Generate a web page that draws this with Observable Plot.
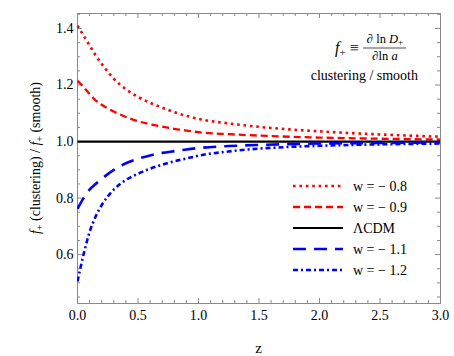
<!DOCTYPE html>
<html>
<head>
<meta charset="utf-8">
<script src="https://cdn.jsdelivr.net/npm/d3@7"></script>
<script src="https://cdn.jsdelivr.net/npm/@observablehq/plot@0.6"></script>
<style>
  html, body { margin: 0; padding: 0; background: #fff; }
  #chart svg { display: block; font-family: 'Liberation Serif', 'DejaVu Serif', serif !important; }
  #chart svg text { font-family: 'Liberation Serif', 'DejaVu Serif', serif !important; }
</style>
</head>
<body>
<div id="chart"></div>
<script>
// ---- data ----
const z      = [0, 0.05, 0.1, 0.15, 0.2, 0.3, 0.4, 0.5, 0.6, 0.7, 0.8, 0.9, 1.0, 1.25, 1.5, 1.75, 2.0, 2.5, 3.0];
const wm08   = [1.41, 1.375, 1.34, 1.305, 1.275, 1.222, 1.185, 1.158, 1.137, 1.12, 1.104, 1.091, 1.080, 1.064, 1.052, 1.043, 1.036, 1.025, 1.017];
const wm09   = [1.215, 1.193, 1.168, 1.146, 1.130, 1.106, 1.087, 1.072, 1.061, 1.053, 1.045, 1.039, 1.033, 1.026, 1.021, 1.017, 1.014, 1.010, 1.007];
const lcdm   = [1, 1, 1, 1, 1, 1, 1, 1, 1, 1, 1, 1, 1, 1, 1, 1, 1, 1, 1];
const wm11   = [0.762, 0.800, 0.830, 0.850, 0.868, 0.900, 0.923, 0.939, 0.951, 0.960, 0.966, 0.972, 0.977, 0.984, 0.988, 0.991, 0.993, 0.995, 0.997];
const wm12   = [0.505, 0.600, 0.680, 0.735, 0.775, 0.830, 0.864, 0.886, 0.904, 0.918, 0.930, 0.940, 0.950, 0.965, 0.975, 0.981, 0.985, 0.990, 0.993];

const seriesNames = ["w = \u2212 0.8", "w = \u2212 0.9", "\u039BCDM", "w = \u2212 1.1", "w = \u2212 1.2"];
const seriesValues = [wm08, wm09, lcdm, wm11, wm12];

const xMajorTicks = [0, 0.5, 1.0, 1.5, 2.0, 2.5, 3.0];
const xTickLabels = ["0.0", "0.5", "1.0", "1.5", "2.0", "2.5", "3.0"];
const xMinorTicks = [0.1,0.2,0.3,0.4,0.6,0.7,0.8,0.9,1.1,1.2,1.3,1.4,1.6,1.7,1.8,1.9,2.1,2.2,2.3,2.4,2.6,2.7,2.8,2.9];
const yMajorTicks = [0.6, 0.8, 1.0, 1.2, 1.4];
const yTickLabels = ["0.6", "0.8", "1.0", "1.2", "1.4"];
const yMinorTicks = [0.45,0.5,0.55,0.65,0.7,0.75,0.85,0.9,0.95,1.05,1.1,1.15,1.25,1.3,1.35,1.45];

// ---- styles ----
const styles = [
  {stroke: "#ff0000", dash: "2.6,3.8", width: 2.6},
  {stroke: "#ff0000", dash: "7,4",     width: 2.3},
  {stroke: "#000000", dash: null,      width: 2.2},
  {stroke: "#0000ff", dash: "13,8",    width: 2.6},
  {stroke: "#0000ff", dash: "5,3,2,3", width: 2.6}
];

const W = 454, H = 356;
const mL = 77, mR = 14, mT = 13, mB = 53;
const plotW = W - mL - mR, plotH = H - mT - mB;
const font = "'Liberation Serif', 'DejaVu Serif', serif";
const tickColor = "#8a8a8a";

const table = [];
seriesValues.forEach((vals, s) => vals.forEach((v, i) => table.push({z: z[i], v, s})));

const lineMarks = styles.map((st, s) =>
  Plot.line(table.filter(d => d.s === s), {
    x: "z", y: "v", curve: "monotone-x", clip: true,
    stroke: st.stroke, strokeWidth: st.width,
    strokeDasharray: st.dash, strokeLinecap: "butt"
  })
);

const chart = Plot.plot({
  width: W, height: H,
  marginLeft: mL, marginRight: mR, marginTop: mT, marginBottom: mB,
  style: {fontFamily: font, fontSize: "14px", background: "#fff", color: "#000"},
  x: {domain: [0, 3]},
  y: {domain: [0.427, 1.453]},
  marks: [
    Plot.ruleX(xMajorTicks, {stroke: tickColor, insetTop: plotH - 5}),
    Plot.ruleX(xMinorTicks, {stroke: tickColor, insetTop: plotH - 3}),
    Plot.ruleX(xMajorTicks, {stroke: tickColor, insetBottom: plotH - 5}),
    Plot.ruleX(xMinorTicks, {stroke: tickColor, insetBottom: plotH - 3}),
    Plot.ruleY(yMajorTicks, {stroke: tickColor, insetRight: plotW - 5}),
    Plot.ruleY(yMinorTicks, {stroke: tickColor, insetRight: plotW - 3}),
    Plot.ruleY(yMajorTicks, {stroke: tickColor, insetLeft: plotW - 5}),
    Plot.ruleY(yMinorTicks, {stroke: tickColor, insetLeft: plotW - 3}),
    Plot.frame({stroke: tickColor, strokeWidth: 1}),
    Plot.axisX({ticks: xMajorTicks, tickFormat: (d, i) => xTickLabels[i], tickSize: 0, tickPadding: 7, label: null, fontSize: 14}),
    Plot.axisY({ticks: yMajorTicks, tickFormat: (d, i) => yTickLabels[i], tickSize: 0, tickPadding: 4, label: null, fontSize: 14}),
    ...lineMarks
  ]
});

document.getElementById("chart").appendChild(chart);

// ---- overlays: labels, annotation, legend ----
const svg = d3.select(chart);
const g = svg.append("g").attr("font-family", font).attr("fill", "#000").attr("text-anchor", "start");

g.append("text").attr("x", mL + plotW / 2).attr("y", 353)
  .attr("text-anchor", "middle").attr("font-size", 15).text("z");

const yl = g.append("text")
  .attr("transform", `translate(40,${mT + plotH / 2}) rotate(-90)`)
  .attr("text-anchor", "middle").attr("font-size", 14);
yl.append("tspan").attr("font-style", "italic").text("f");
yl.append("tspan").attr("font-size", 10).attr("dy", 3).text("+");
yl.append("tspan").attr("dy", -3).text(" (clustering) / ");
yl.append("tspan").attr("font-style", "italic").text("f");
yl.append("tspan").attr("font-size", 10).attr("dy", 3).text("+");
yl.append("tspan").attr("dy", -3).text(" (smooth)");

const a1 = g.append("text").attr("x", 335).attr("y", 53).attr("font-size", 16).attr("text-anchor", "start");
a1.append("tspan").attr("font-style", "italic").text("f");
a1.append("tspan").attr("font-size", 11).attr("dy", 3).text("+");
a1.append("tspan").attr("dy", -3).text(" \u2261");
const num = g.append("text").attr("x", 385).attr("y", 43).attr("text-anchor", "middle").attr("font-size", 12.5);
num.append("tspan").text("\u2202 ln ");
num.append("tspan").attr("font-style", "italic").text("D");
num.append("tspan").attr("font-size", 9).attr("dy", 2).text("+");
g.append("line").attr("x1", 363).attr("x2", 406).attr("y1", 48).attr("y2", 48)
  .attr("stroke", "#000").attr("stroke-width", 0.7);
const den = g.append("text").attr("x", 385).attr("y", 60).attr("text-anchor", "middle").attr("font-size", 12.5);
den.append("tspan").text("\u2202ln ");
den.append("tspan").attr("font-style", "italic").text("a");

g.append("text").attr("x", 418).attr("y", 80).attr("text-anchor", "end")
  .attr("font-size", 14).text("clustering / smooth");

const legY0 = 186, legStep = 21;
seriesNames.forEach((name, s) => {
  const y = legY0 + s * legStep;
  const st = styles[s];
  g.append("line").attr("x1", 293).attr("x2", 343).attr("y1", y).attr("y2", y)
    .attr("stroke", st.stroke).attr("stroke-width", st.width)
    .attr("stroke-dasharray", st.dash);
  g.append("text").attr("x", 353).attr("y", y).attr("dy", "0.35em")
    .attr("text-anchor", "start").attr("font-size", 14).text(name);
});
</script>
</body>
</html>
